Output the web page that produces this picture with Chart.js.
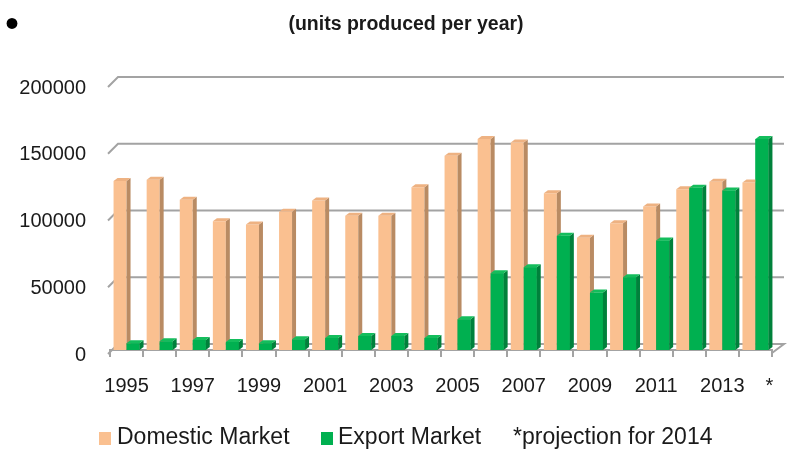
<!DOCTYPE html>
<html>
<head>
<meta charset="utf-8">
<script src="https://cdn.jsdelivr.net/npm/chart.js@4.4.1/dist/chart.umd.min.js"></script>
<style>
  body { margin: 0; background: #fff; }
  #wrap { position: relative; width: 792px; height: 450px; font-family: "Liberation Sans", Arial, sans-serif; color: #1a1a1a; }
  #wrap canvas { position: absolute; left: 0; top: 0; }
  .txt { position: absolute; white-space: nowrap; }
  .title { left: 406px; top: 14px; transform: translateX(-50%); font-size: 19.5px; font-weight: bold; line-height: 19.5px; }
  .bullet { left: 5px; top: 3px; font-size: 40px; line-height: 40px; color: #000; }
  .leg { top: 425px; font-size: 23px; line-height: 23px; }
  .box { position: absolute; top: 432px; width: 12px; height: 13px; }
</style>
</head>
<body>
<div id="wrap">
  <canvas id="chart" width="792" height="450"></canvas>
  <div class="txt bullet">•</div>
  <div class="txt title">(units produced per year)</div>
  <div class="box" style="left:99px;background:#fac090"></div>
  <div class="txt leg" style="left:117px">Domestic Market</div>
  <div class="box" style="left:321px;background:#00b050"></div>
  <div class="txt leg" style="left:338px">Export Market</div>
  <div class="txt leg" style="left:513px">*projection for 2014</div>
</div>
<script>
// years on the category axis (2014 is the projection)
const years = ['1995', '1996', '1997', '1998', '1999', '2000', '2001', '2002', '2003', '2004',
  '2005', '2006', '2007', '2008', '2009', '2010', '2011', '2012', '2013', '2014'];

// units produced per year
const domestic = [126500, 127500, 112500, 96500, 94000, 103500, 112000, 100500, 100500, 122000,
  145500, 158000, 155500, 117500, 84000, 95000, 107500, 120500, 126000, 125500];
const exportMarket = [5000, 6500, 7500, 6000, 5000, 8000, 9000, 10500, 10500, 9000,
  23000, 57500, 62000, 85500, 43000, 54500, 82000, 121500, 119500, 158000];

// labels shown under the x axis
const xTickLabels = ['1995', '', '1997', '', '1999', '', '2001', '', '2003', '',
  '2005', '', '2007', '', '2009', '', '2011', '', '2013', '*'];

const gridColor = '#a3a3a3';

// fake 3d look: back wall grid lines with the slanted left edge
const backWall = {
  id: 'backWall',
  beforeDatasetsDraw(chart) {
    const { ctx, chartArea } = chart;
    const ys = chart.scales.y;
    ctx.save();
    ctx.strokeStyle = gridColor;
    ctx.lineWidth = 2;
    ys.ticks.forEach(t => {
      const py = ys.getPixelForValue(t.value);
      ctx.beginPath();
      ctx.moveTo(chartArea.left - 2, py + 4);
      ctx.lineTo(chartArea.left + 8, py - 6);
      ctx.lineTo(chartArea.right + 12, py - 6);
      if (t.value === 0) ctx.lineTo(chartArea.right, py + 3);
      ctx.stroke();
    });
    ctx.restore();
  }
};

// side and top faces of each column
const bevel = {
  id: 'bevel',
  afterDatasetsDraw(chart) {
    const ctx = chart.ctx;
    const dom = chart.getDatasetMeta(0).data;
    const exp = chart.getDatasetMeta(1).data;
    const d = 4, h = 3;
    const faces = (bar, side, top) => {
      const { x, y, base, width } = bar.getProps(['x', 'y', 'base', 'width'], true);
      const l = x - width / 2, r = x + width / 2;
      ctx.fillStyle = side;
      ctx.beginPath();
      ctx.moveTo(r, y); ctx.lineTo(r + d, y - h); ctx.lineTo(r + d, base - h); ctx.lineTo(r, base);
      ctx.closePath(); ctx.fill();
      ctx.fillStyle = top;
      ctx.beginPath();
      ctx.moveTo(l, y); ctx.lineTo(l + d, y - h); ctx.lineTo(r + d, y - h); ctx.lineTo(r, y);
      ctx.closePath(); ctx.fill();
    };
    ctx.save();
    dom.forEach((bar, i) => {
      faces(bar, '#b98b63', '#eeb282');
      // green column sits in front of the orange side face
      exp[i].draw(ctx);
      faces(exp[i], '#00813b', '#14bd5c');
    });
    ctx.restore();
  }
};

Chart.defaults.font.family = '"Liberation Sans", Arial, sans-serif';
Chart.defaults.color = '#1a1a1a';

new Chart(document.getElementById('chart'), {
  type: 'bar',
  data: {
    labels: years,
    datasets: [
      { label: 'Domestic Market', data: domestic, backgroundColor: '#fac090' },
      { label: 'Export Market', data: exportMarket, backgroundColor: '#00b050' }
    ]
  },
  options: {
    responsive: false,
    animation: false,
    categoryPercentage: 0.785,
    barPercentage: 1.0,
    layout: { padding: { top: 83, right: 20, bottom: 0, left: 0 } },
    plugins: {
      legend: { display: false },
      tooltip: { enabled: false }
    },
    scales: {
      x: {
        grid: { drawOnChartArea: false, color: gridColor, lineWidth: 2, tickLength: 7 },
        border: { display: true, color: gridColor, width: 2 },
        ticks: {
          autoSkip: false,
          maxRotation: 0,
          minRotation: 0,
          padding: 17,
          font: { size: 20 },
          callback: (v, i) => (i === 19 ? '     ' : '') + xTickLabels[i]
        },
        afterFit: s => { s.height = 100; }
      },
      y: {
        min: 0,
        max: 200000,
        grid: { display: false },
        border: { display: false },
        ticks: {
          stepSize: 50000,
          padding: 16,
          labelOffset: 5,
          font: { size: 20 },
          callback: v => String(v)
        },
        afterFit: s => { s.width = 110; }
      }
    }
  },
  plugins: [backWall, bevel]
});
</script>
</body>
</html>
